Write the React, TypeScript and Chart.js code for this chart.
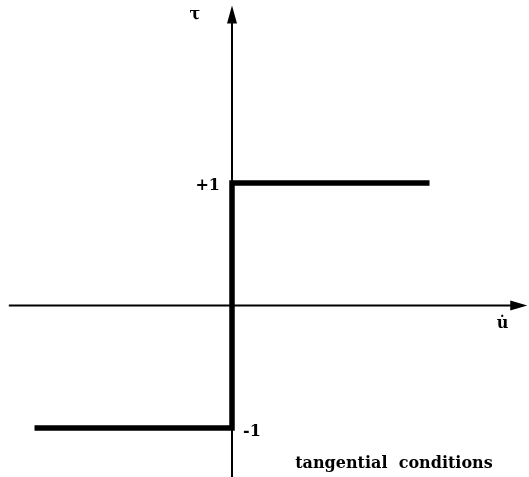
import React, { useEffect, useRef } from "react";
import { Chart, registerables } from "chart.js";

Chart.register(...registerables);

const stepX = [-1, 0, 0, 1];
const stepY = [-1, -1, 1, 1];
const yTickLabels = ["+1", "-1"];
const yAxisLabel = "τ";
const xAxisLabel = "u̇";
const caption = "tangential  conditions";

const FONT = "bold 16px 'DejaVu Serif', 'Liberation Serif', serif";
const CAPTION_FONT = "bold 16px 'DejaVu Serif', 'Liberation Serif', serif";

const axesPlugin = {
  id: "crossAxes",
  beforeDatasetsDraw(chart: any) {
    const { ctx } = chart;
    const xs = chart.scales.x;
    const ys = chart.scales.y;
    const x0 = xs.getPixelForValue(0);
    const y0 = ys.getPixelForValue(0);
    ctx.save();
    ctx.strokeStyle = "#000";
    ctx.fillStyle = "#000";
    // vertical axis
    ctx.lineWidth = 2;
    ctx.beginPath();
    ctx.moveTo(x0, ys.getPixelForValue(ys.min));
    ctx.lineTo(x0, ys.getPixelForValue(2.35));
    ctx.stroke();
    const yTip = ys.getPixelForValue(2.45);
    ctx.beginPath();
    ctx.moveTo(x0, yTip);
    ctx.lineTo(x0 - 5, yTip + 18);
    ctx.lineTo(x0 + 5, yTip + 18);
    ctx.closePath();
    ctx.fill();
    // horizontal axis
    ctx.lineWidth = 2;
    ctx.beginPath();
    ctx.moveTo(xs.getPixelForValue(-1.13), y0);
    ctx.lineTo(xs.getPixelForValue(1.45), y0);
    ctx.stroke();
    const xTip = xs.getPixelForValue(1.495);
    ctx.beginPath();
    ctx.moveTo(xTip, y0);
    ctx.lineTo(xTip - 17, y0 - 5);
    ctx.lineTo(xTip - 17, y0 + 5);
    ctx.closePath();
    ctx.fill();
    ctx.restore();
  },
  afterDatasetsDraw(chart: any) {
    const { ctx } = chart;
    const xs = chart.scales.x;
    const ys = chart.scales.y;
    const x0 = xs.getPixelForValue(0);
    ctx.save();
    ctx.fillStyle = "#000";
    ctx.font = FONT;
    ctx.textBaseline = "middle";
    ctx.textAlign = "right";
    ctx.fillText(yTickLabels[0], x0 - 12, ys.getPixelForValue(1) + 3);
    ctx.textAlign = "left";
    ctx.fillText(yTickLabels[1], x0 + 11, ys.getPixelForValue(-1) + 4);
    ctx.textAlign = "center";
    ctx.fillText(yAxisLabel, x0 - 37, ys.getPixelForValue(2.37));
    ctx.fillText(xAxisLabel, xs.getPixelForValue(1.37), ys.getPixelForValue(-0.15));
    ctx.font = CAPTION_FONT;
    ctx.textAlign = "left";
    ctx.fillText(caption, xs.getPixelForValue(0.32), ys.getPixelForValue(-1.29));
    ctx.restore();
  },
};

export default function App() {
  const ref = useRef<HTMLCanvasElement | null>(null);
  useEffect(() => {
    if (!ref.current) return;
    const chart = new Chart(ref.current, {
      type: "line",
      data: {
        datasets: [
          {
            data: stepX.map((x, i) => ({ x, y: stepY[i] })),
            borderColor: "#000",
            borderWidth: 5.5,
            pointRadius: 0,
            fill: false,
            tension: 0,
            borderJoinStyle: "miter",
            borderCapStyle: "butt",
          },
        ],
      },
      options: {
        animation: false,
        responsive: false,
        maintainAspectRatio: false,
        layout: { padding: 0 },
        plugins: { legend: { display: false }, tooltip: { enabled: false } },
        scales: {
          x: { type: "linear", min: -1.1747, max: 1.5038, display: false },
          y: { type: "linear", min: -1.4, max: 2.4939, display: false },
        },
      },
      plugins: [axesPlugin],
    } as any);
    return () => chart.destroy();
  }, []);
  return (
    <div style={{ position: "fixed", left: 0, top: 0, width: 529, height: 477, background: "#fff" }}>
      <canvas ref={ref} width={529} height={477} style={{ display: "block", width: 529, height: 477 }} />
    </div>
  );
}
